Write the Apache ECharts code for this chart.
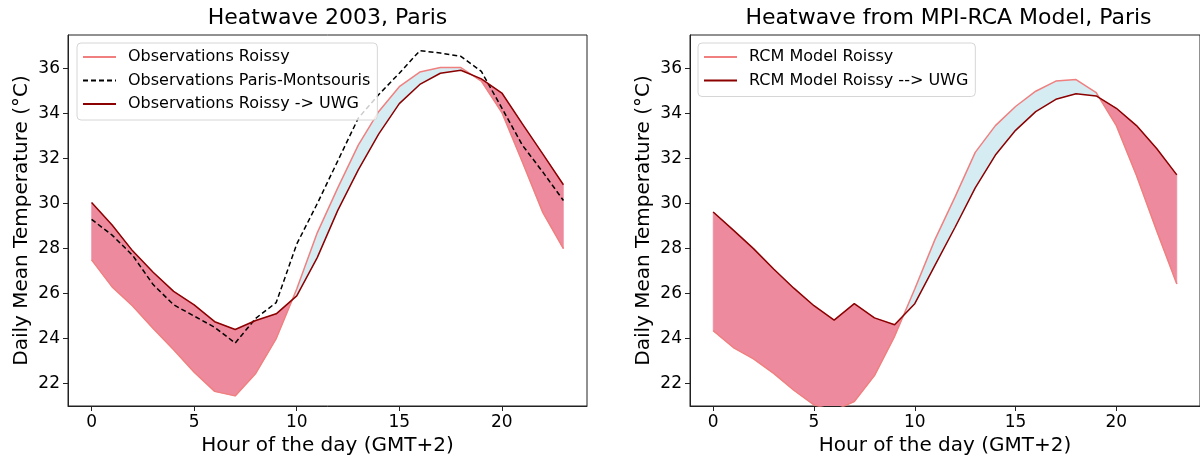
<!DOCTYPE html>
<html>
<head>
<meta charset="utf-8">
<script src="https://cdn.jsdelivr.net/npm/echarts@6/dist/echarts.min.js"></script>
<style>
html,body{margin:0;padding:0;background:#fff;}
#chart{width:1200px;height:461px;}
</style>
</head>
<body>
<div id="chart"></div>
<script>
// ---------- data ----------
const hours = [0,1,2,3,4,5,6,7,8,9,10,11,12,13,14,15,16,17,18,19,20,21,22,23];

// Left panel: Heatwave 2003, Paris
const obsRoissy = [27.5, 26.3, 25.45, 24.45, 23.5, 22.5, 21.65, 21.45, 22.45, 24.0, 26.2, 28.7, 30.7, 32.6, 34.1, 35.2, 35.85, 36.05, 36.05, 35.45, 34.05, 31.85, 29.6, 28.0];
const obsMontsouris = [29.3, 28.6, 27.7, 26.4, 25.5, 25.0, 24.5, 23.8, 24.9, 25.6, 28.2, 30.0, 31.9, 33.8, 34.85, 35.8, 36.8, 36.7, 36.55, 35.88, 34.25, 32.6, 31.4, 30.14];
const obsRoissyUWG = [30.05, 29.05, 27.9, 26.95, 26.1, 25.5, 24.75, 24.4, 24.8, 25.1, 25.9, 27.6, 29.7, 31.5, 33.1, 34.45, 35.3, 35.8, 35.93, 35.55, 34.92, 33.55, 32.2, 30.84];

// Right panel: Heatwave from MPI-RCA Model, Paris
const rcmRoissy = [24.35, 23.6, 23.1, 22.45, 21.7, 21.05, 20.8, 21.2, 22.35, 24.1, 26.2, 28.4, 30.3, 32.28, 33.47, 34.32, 35.0, 35.45, 35.52, 34.94, 33.47, 31.25, 28.8, 26.43];
const rcmRoissyUWG = [29.63, 28.82, 28.0, 27.09, 26.24, 25.46, 24.82, 25.55, 24.92, 24.61, 25.55, 27.25, 28.95, 30.7, 32.16, 33.26, 34.09, 34.64, 34.89, 34.79, 34.24, 33.47, 32.45, 31.28];

const xTicks = [0, 5, 10, 15, 20];
const yTicks = [22, 24, 26, 28, 30, 32, 34, 36];

const titles = ['Heatwave 2003, Paris', 'Heatwave from MPI-RCA Model, Paris'];
const xName = 'Hour of the day (GMT+2)';
const yName = 'Daily Mean Temperature (°C)';

// ---------- styling ----------
const FONT = 'DejaVu Sans';
const C_ROISSY = '#f08080';
const C_UWG = '#8b0000';
const C_PINK = '#ee8a9e';
const C_BLUE = '#d6ecf3';
const AX = '#222';

const grids = [
  {left: 68, top: 35, width: 519, height: 376},
  {left: 690, top: 35, width: 517, height: 376}
];

function xAxisFor(i) {
  return {
    type: 'value', gridIndex: i, min: -1.15, max: 24.15,
    name: xName, nameLocation: 'middle', nameGap: 30,
    nameTextStyle: {fontFamily: FONT, fontSize: 20, color: '#000'},
    axisLine: {show: true, onZero: false, lineStyle: {color: AX, width: 1}},
    axisTick: {show: true, length: 5, customValues: xTicks, lineStyle: {color: AX, width: 1}},
    axisLabel: {customValues: xTicks, margin: 8, fontFamily: FONT, fontSize: 17, color: '#000'},
    splitLine: {show: false}
  };
}
function yAxisFor(i) {
  return {
    type: 'value', gridIndex: i, min: 21, max: 37.5,
    name: yName, nameLocation: 'middle', nameGap: 36, nameRotate: 90,
    nameTextStyle: {fontFamily: FONT, fontSize: 20, color: '#000'},
    axisLine: {show: true, onZero: false, lineStyle: {color: AX, width: 1}},
    axisTick: {show: true, length: 5, customValues: yTicks, lineStyle: {color: AX, width: 1}},
    axisLabel: {customValues: yTicks, margin: 8, fontFamily: FONT, fontSize: 17, color: '#000'},
    splitLine: {show: false}
  };
}

function fillBetween(idx, upper, lower) {
  return {
    type: 'custom', xAxisIndex: idx, yAxisIndex: idx, silent: true, z: 1,
    clip: true,
    data: [[hours[0], upper[0]]],
    renderItem: function (params, api) {
      const pt = (x, y) => api.coord([x, y]);
      const polys = [];
      let cur = null;
      for (let i = 0; i < hours.length; i++) {
        const d = upper[i] - lower[i];
        const s = d >= 0 ? 1 : -1;
        if (i > 0) {
          const dp = upper[i - 1] - lower[i - 1];
          if (dp * d < 0) {
            const t = dp / (dp - d);
            const xc = hours[i - 1] + t * (hours[i] - hours[i - 1]);
            const yc = upper[i - 1] + t * (upper[i] - upper[i - 1]);
            const c = pt(xc, yc);
            cur.top.push(c); cur.bot.push(c);
            polys.push(cur);
            cur = {sign: s, top: [c], bot: [c]};
          }
        }
        if (!cur) cur = {sign: s, top: [], bot: []};
        cur.top.push(pt(hours[i], upper[i]));
        cur.bot.push(pt(hours[i], lower[i]));
      }
      polys.push(cur);
      const cs = params.coordSys;
      return {
        type: 'group',
        clipPath: {type: 'rect', shape: {x: cs.x, y: cs.y, width: cs.width, height: cs.height}},
        children: polys.map(p => {
          const col = p.sign > 0 ? C_PINK : C_BLUE;
          return {
            type: 'polygon',
            shape: {points: p.top.concat(p.bot.slice().reverse())},
            style: {fill: col, stroke: col, lineWidth: 0.6}
          };
        })
      };
    }
  };
}

function lineSeries(name, idx, values, color, dashed) {
  return {
    name: name, type: 'line', xAxisIndex: idx, yAxisIndex: idx,
    data: hours.map((h, i) => [h, values[i]]),
    symbol: 'none', showSymbol: false, z: 3, clip: true,
    lineStyle: {color: color, width: 1.5, type: dashed ? [5, 3] : 'solid'},
    itemStyle: {color: color},
    emphasis: {disabled: true}
  };
}

const legendBase = {
  orient: 'vertical', itemWidth: 33, itemHeight: 14, itemGap: 7.5,
  padding: [6, 7, 8, 5],
  backgroundColor: 'rgba(255,255,255,0.8)', borderColor: '#d6d6d6', borderWidth: 1, borderRadius: 4,
  itemStyle: {opacity: 0},
  textStyle: {fontFamily: FONT, fontSize: 16, color: '#000', padding: [0, 0, 0, 7]},
  selectedMode: false
};

const option = {
  animation: false,
  backgroundColor: '#fff',
  grid: grids.map(g => Object.assign({show: true, borderColor: AX, borderWidth: 1, backgroundColor: 'transparent'}, g)),
  xAxis: [xAxisFor(0), xAxisFor(1)],
  yAxis: [yAxisFor(0), yAxisFor(1)],
  legend: [
    Object.assign({}, legendBase, {left: 77, top: 43,
      data: ['Observations Roissy', 'Observations Paris-Montsouris', 'Observations Roissy -> UWG']}),
    Object.assign({}, legendBase, {left: 698, top: 43,
      data: ['RCM Model Roissy', 'RCM Model Roissy --> UWG']})
  ],
  graphic: titles.map((t, i) => ({
    type: 'text',
    x: grids[i].left + grids[i].width / 2,
    y: 29,
    style: {text: t, fontFamily: FONT, fontSize: 22, fill: '#000', align: 'center', verticalAlign: 'bottom'}
  })),
  series: [
    fillBetween(0, obsRoissyUWG, obsRoissy),
    lineSeries('Observations Roissy', 0, obsRoissy, C_ROISSY, false),
    lineSeries('Observations Paris-Montsouris', 0, obsMontsouris, '#000', true),
    lineSeries('Observations Roissy -> UWG', 0, obsRoissyUWG, C_UWG, false),
    fillBetween(1, rcmRoissyUWG, rcmRoissy),
    lineSeries('RCM Model Roissy', 1, rcmRoissy, C_ROISSY, false),
    lineSeries('RCM Model Roissy --> UWG', 1, rcmRoissyUWG, C_UWG, false)
  ]
};

const chart = echarts.init(document.getElementById('chart'), null, {renderer: 'canvas'});
chart.setOption(option);
</script>
</body>
</html>
